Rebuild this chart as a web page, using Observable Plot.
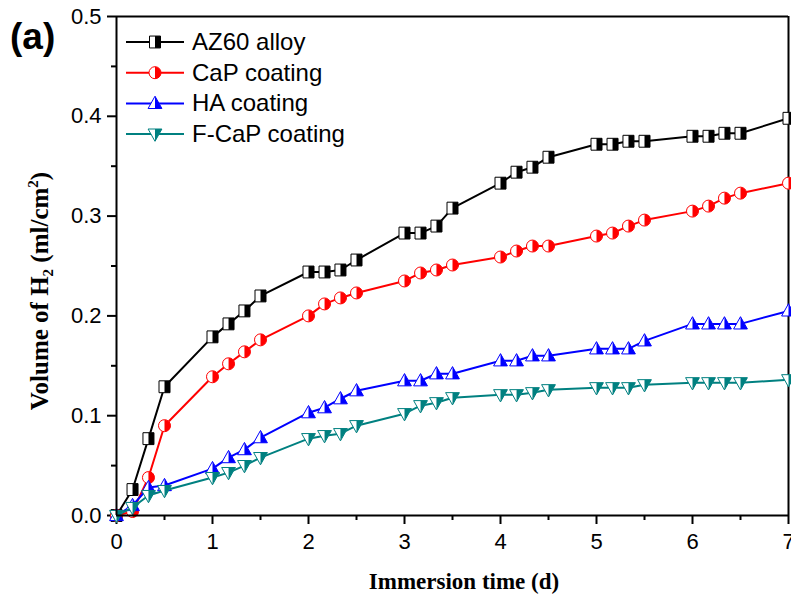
<!DOCTYPE html>
<html><head><meta charset="utf-8">
<script src="https://cdn.jsdelivr.net/npm/d3@7"></script>
<script src="https://cdn.jsdelivr.net/npm/@observablehq/plot@0.6"></script>
<style>
body{margin:0;background:#fff;}
#chart{position:relative;width:791px;height:600px;}
</style>
</head><body><div id="chart"></div>
<script>
const days = [0, 0.167, 0.333, 0.5, 1, 1.167, 1.333, 1.5, 2, 2.167, 2.333, 2.5, 3, 3.167, 3.333, 3.5, 4, 4.167, 4.333, 4.5, 5, 5.167, 5.333, 5.5, 6, 6.167, 6.333, 6.5, 7];
const az60 = [0, 0.026, 0.077, 0.129, 0.179, 0.192, 0.205, 0.220, 0.244, 0.244, 0.246, 0.256, 0.283, 0.283, 0.290, 0.308, 0.333, 0.344, 0.349, 0.359, 0.372, 0.372, 0.375, 0.375, 0.380, 0.380, 0.383, 0.383, 0.398];
const cap = [0, 0.004, 0.038, 0.090, 0.139, 0.152, 0.164, 0.176, 0.200, 0.212, 0.218, 0.223, 0.235, 0.243, 0.246, 0.251, 0.259, 0.265, 0.270, 0.270, 0.280, 0.283, 0.290, 0.296, 0.305, 0.310, 0.318, 0.323, 0.333];
const ha = [0, 0.010, 0.028, 0.030, 0.047, 0.058, 0.066, 0.078, 0.103, 0.108, 0.117, 0.125, 0.135, 0.135, 0.142, 0.142, 0.155, 0.155, 0.160, 0.160, 0.167, 0.167, 0.167, 0.175, 0.192, 0.192, 0.192, 0.192, 0.205];
const fcap = [0, 0.008, 0.020, 0.025, 0.038, 0.043, 0.050, 0.058, 0.077, 0.080, 0.082, 0.090, 0.102, 0.110, 0.113, 0.118, 0.121, 0.121, 0.123, 0.126, 0.128, 0.128, 0.128, 0.131, 0.133, 0.133, 0.133, 0.133, 0.136];
const seriesNames = ["AZ60 alloy", "CaP coating", "HA coating", "F-CaP coating"];
const seriesValues = [az60, cap, ha, fcap];
const seriesColors = ["#000000", "#ff0000", "#0000ff", "#008080"];
const xTicks = [0, 1, 2, 3, 4, 5, 6, 7];
const xMinor = [0.5, 1.5, 2.5, 3.5, 4.5, 5.5, 6.5];
const yTicks = [0, 0.1, 0.2, 0.3, 0.4, 0.5];
const yMinor = [0.05, 0.15, 0.25, 0.35, 0.45];

// symbols (full outline + right half fill)
const R = s => Math.sqrt(s / Math.PI);
const sqFull = {draw(c, s){const r=R(s); c.rect(-r, -r*1.08, 2*r, 2.16*r);}};
const sqHalf = {draw(c, s){const r=R(s); c.rect(0, -r*1.08, r, 2.16*r);}};
const ciFull = {draw(c, s){const r=R(s); c.moveTo(r,0); c.arc(0,0,r,0,2*Math.PI);}};
const ciHalf = {draw(c, s){const r=R(s); c.moveTo(0,-r); c.arc(0,0,r,-Math.PI/2,Math.PI/2); c.closePath();}};
const tuFull = {draw(c, s){const r=R(s); c.moveTo(0,-1.2*r); c.lineTo(1.15*r,0.85*r); c.lineTo(-1.15*r,0.85*r); c.closePath();}};
const tuHalf = {draw(c, s){const r=R(s); c.moveTo(0,-1.2*r); c.lineTo(1.15*r,0.85*r); c.lineTo(0,0.85*r); c.closePath();}};
const tdFull = {draw(c, s){const r=R(s); c.moveTo(0,1.2*r); c.lineTo(1.15*r,-0.85*r); c.lineTo(-1.15*r,-0.85*r); c.closePath();}};
const tdHalf = {draw(c, s){const r=R(s); c.moveTo(0,1.2*r); c.lineTo(1.15*r,-0.85*r); c.lineTo(0,-0.85*r); c.closePath();}};
const symFull = [sqFull, ciFull, tuFull, tdFull];
const symHalf = [sqHalf, ciHalf, tuHalf, tdHalf];
const symR = [5.5, 6, 6, 6];

const rows = seriesValues.map((vals, k) => days.map((d, i) => ({x: d, y: vals[i], k})));

const marks = [];
rows.forEach((data, k) => {
  marks.push(Plot.line(data, {x: "x", y: "y", stroke: seriesColors[k], strokeWidth: 2}));
  marks.push(Plot.dot(data, {x: "x", y: "y", symbol: symFull[k], r: symR[k], fill: "white", stroke: seriesColors[k], strokeWidth: 1}));
  marks.push(Plot.dot(data, {x: "x", y: "y", symbol: symHalf[k], r: symR[k], fill: seriesColors[k], stroke: "none"}));
});

const fmtY = d3.format(".1f");
const plot = Plot.plot({
  width: 791, height: 600,
  marginLeft: 116, marginRight: 3, marginTop: 16, marginBottom: 85,
  style: {fontFamily: "'Liberation Sans', Arial, sans-serif", color: "#000", background: "#fff", overflow: "visible"},
  x: {domain: [0, 7], label: null, axis: null},
  y: {domain: [0, 0.5], label: null, axis: null},
  marks: [
    Plot.axisX({ticks: xTicks, tickSize: 9, tickFormat: () => "", strokeWidth: 2, label: null}),
    Plot.axisX({ticks: xMinor, tickSize: 5, tickFormat: () => "", strokeWidth: 2, label: null}),
    Plot.axisY({ticks: yTicks, tickSize: 9, tickFormat: () => "", strokeWidth: 2, label: null}),
    Plot.axisY({ticks: yMinor, tickSize: 5, tickFormat: () => "", strokeWidth: 2, label: null}),
    Plot.text(xTicks, {x: d => d, y: () => 0, text: d => String(d), dy: 18, lineAnchor: "top", fontSize: 22, fill: "black"}),
    Plot.text(yTicks, {x: () => 0, y: d => d, text: d => fmtY(d), dx: -15, textAnchor: "end", fontSize: 22, fill: "black"}),
    Plot.ruleY([0.5], {strokeWidth: 2}),
    Plot.ruleX([7], {strokeWidth: 2}),
    ...marks,
    Plot.ruleY([0], {strokeWidth: 2}),
    Plot.ruleX([0], {strokeWidth: 2})
  ]
});
document.getElementById("chart").appendChild(plot);

const svg = d3.select(plot);
// axis titles
svg.append("text").attr("x", 464).attr("y", 589).attr("text-anchor", "middle")
  .style("font-family", "'Liberation Serif', 'Times New Roman', serif").style("font-weight", "bold").style("font-size", "23px")
  .text("Immersion time (d)");
const yl = svg.append("text").attr("transform", "translate(48,291) rotate(-90)").attr("text-anchor", "middle")
  .style("font-family", "'Liberation Serif', 'Times New Roman', serif").style("font-weight", "bold").style("font-size", "25px");
yl.append("tspan").text("Volume of H");
yl.append("tspan").attr("dy", 5).style("font-size", "15px").text("2");
yl.append("tspan").attr("dy", -5).text(" (ml/cm");
yl.append("tspan").attr("dy", -10).style("font-size", "15px").text("2");
yl.append("tspan").attr("dy", 10).text(")");
// panel tag
svg.append("text").attr("x", 10).attr("y", 49).attr("text-anchor", "start")
  .style("font-family", "'Liberation Sans', Arial, sans-serif").style("font-weight", "bold").style("font-size", "37px")
  .text("(a)");
// legend
const lg = svg.append("g");
seriesNames.forEach((name, k) => {
  const y = 42 + k * 30.7;
  lg.append("line").attr("x1", 126).attr("x2", 184).attr("y1", y).attr("y2", y)
    .attr("stroke", seriesColors[k]).attr("stroke-width", 2);
  const size = symR[k] * symR[k] * Math.PI;
  const pf = d3.path(); symFull[k].draw(pf, size);
  const ph = d3.path(); symHalf[k].draw(ph, size);
  lg.append("path").attr("transform", `translate(155,${y})`).attr("d", pf.toString())
    .attr("fill", "white").attr("stroke", seriesColors[k]).attr("stroke-width", 1);
  lg.append("path").attr("transform", `translate(155,${y})`).attr("d", ph.toString())
    .attr("fill", seriesColors[k]);
  lg.append("text").attr("x", 192).attr("y", y + 8).attr("text-anchor", "start")
    .style("font-family", "'Liberation Sans', Arial, sans-serif").style("font-size", "24px")
    .text(name);
});
</script>
</body></html>
